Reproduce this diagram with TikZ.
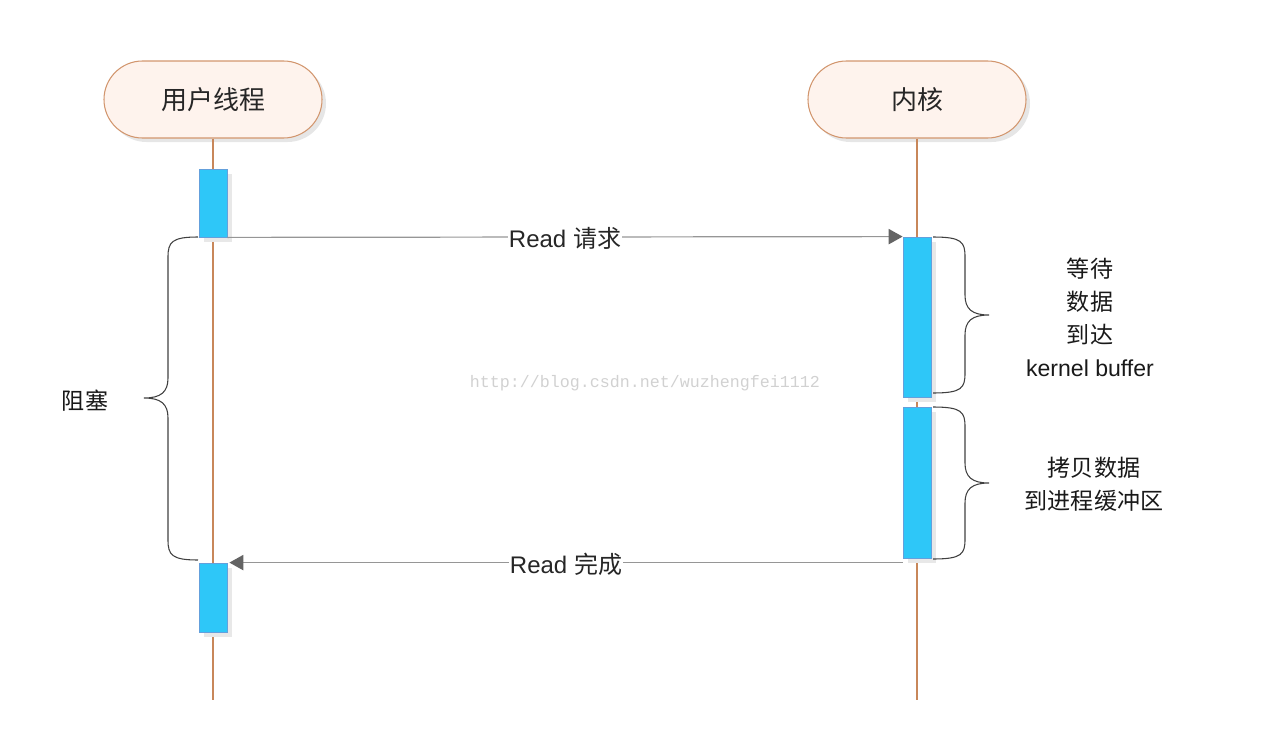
\documentclass[tikz,border=0pt]{standalone}
\usepackage{fontspec}
\setmainfont{Liberation Sans}
\newfontfamily\cjk{Noto Sans CJK SC}
\newfontfamily\wmfont{Liberation Mono}
\usetikzlibrary{arrows.meta,shapes.misc,shadows}
\definecolor{barfill}{RGB}{46,199,248}
\definecolor{barline}{RGB}{100,160,220}
\definecolor{headfill}{RGB}{254,243,237}
\definecolor{headline}{RGB}{210,150,110}
\definecolor{lifecol}{RGB}{200,135,90}
\definecolor{msgcol}{RGB}{150,150,150}
\definecolor{tipcol}{RGB}{100,100,100}
\begin{document}
\begin{tikzpicture}[x=0.75pt,y=-0.75pt,
 header/.style={rounded rectangle, draw=headline, fill=headfill, line width=0.8pt,
   minimum width=163.5pt, minimum height=57.75pt, inner sep=0pt, text=black!85,
   font=\cjk\fontsize{19.5}{19.5}\selectfont,
   drop shadow={shadow xshift=3pt,shadow yshift=-3pt,opacity=0.2}},
 bar/.style={rectangle, draw=barline, fill=barfill, line width=0.6pt, minimum width=21pt,
   inner sep=0pt, drop shadow={shadow xshift=4pt, shadow yshift=-4pt, fill=black!9, opacity=1}},
 life/.style={draw=lifecol, line width=1.1pt},
 msg/.style={draw=msgcol, line width=0.9pt, -{Triangle[length=10.5pt,width=11.5pt,color=tipcol]}},
 msglabel/.style={fill=white, inner sep=1pt, font=\fontsize{18}{18}\selectfont, text=black!85, yshift=-1pt},
 curly/.style={draw=black!75, line width=0.8pt},
 lbl/.style={font=\fontsize{17.3}{24.75}\selectfont, align=center, text=black!90},
]
\useasboundingbox (0,0) rectangle (1272,746);
\node[text=black!18, font=\wmfont\fontsize{12.5}{12.5}\selectfont] (wm) at (645,383) {http://blog.csdn.net/wuzhengfei1112};
\node[header] (user) at (213,99.5) {用户线程};
\node[header] (kern) at (917,99.5) {内核};
\coordinate (uend) at (213,700);
\coordinate (kend) at (917,700);
\draw[life] (user.south) -- (uend);
\draw[life] (kern.south) -- (kend);
\node[bar, minimum height=51pt] (u1) at (213,203) {};
\node[bar, minimum height=120pt] (k1) at (917,317) {};
\node[bar, minimum height=113.25pt] (k2) at (917,482.5) {};
\node[bar, minimum height=51.75pt] (u2) at (213,597.5) {};
\draw[msg] (u1.south east) -- node[msglabel]{Read {\cjk 请求}} (k1.north west);
\draw[msg] (u2.north east -| k2.west) -- node[msglabel]{Read {\cjk 完成}} ([xshift=1.5pt]u2.north east);
% braces
\draw[curly] (933,237) .. controls (962,237) and (965,242) .. (965,257) -- (965,295) .. controls (965,309) and (972,315) .. (989,315) .. controls (972,315) and (965,321) .. (965,335) -- (965,373) .. controls (965,388) and (962,393) .. (933,393);
\draw[curly] (933,407) .. controls (962,407) and (965,412) .. (965,427) -- (965,463) .. controls (965,477) and (972,483) .. (989,483) .. controls (972,483) and (965,489) .. (965,503) -- (965,539) .. controls (965,554) and (962,559) .. (933,559);
\draw[curly] (198,237) .. controls (172,237) and (168,242) .. (168,257) -- (168,378) .. controls (168,392) and (161,398) .. (144,398) .. controls (161,398) and (168,404) .. (168,418) -- (168,540) .. controls (168,555) and (172,560) .. (198,560);
\node[lbl] (block) at (85,401) {\cjk 阻塞};
\node[lbl] (wait) at (1090,317) {{\cjk 等待}\\{\cjk 数据}\\{\cjk 到达}\\kernel buffer};
\node[lbl] (copy) at (1094,484) {{\cjk 拷贝数据}\\{\cjk 到进程缓冲区}};
\end{tikzpicture}
\end{document}
